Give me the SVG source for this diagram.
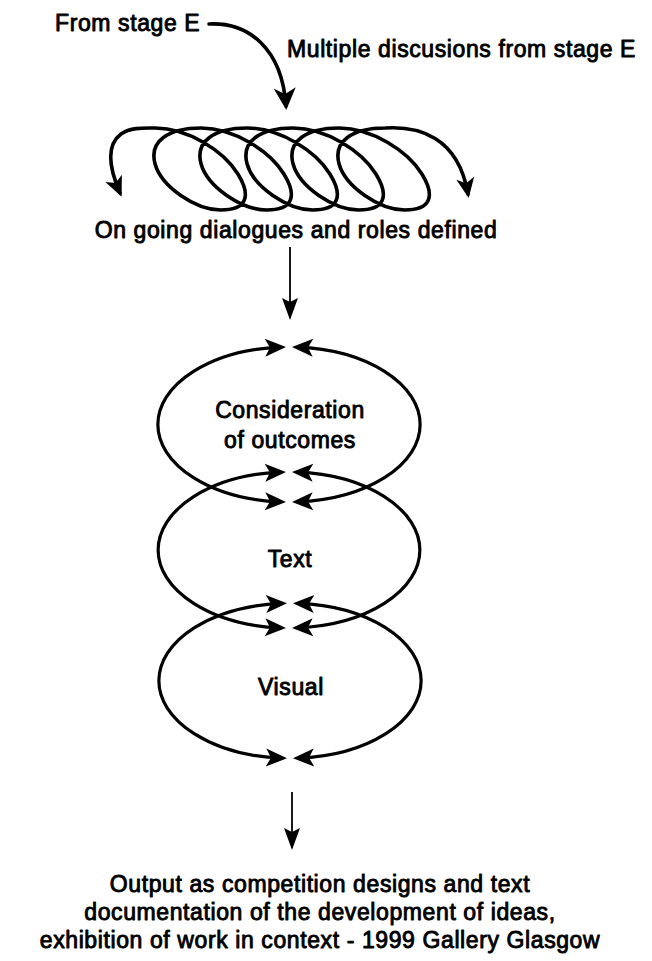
<svg xmlns="http://www.w3.org/2000/svg" width="652" height="961" viewBox="0 0 652 961">
  <style>
    .lbl { font-family: "Liberation Sans", Arial, Helvetica, sans-serif; font-size: 23px; letter-spacing: 0.6px; fill: #000; stroke: #000; stroke-width: 0.9px; stroke-linejoin: round; }
    .mid { text-anchor: middle; }
    .heavy { fill: none; stroke: #000; stroke-width: 3.6; stroke-linecap: round; stroke-linejoin: round; }
    .orbit { fill: none; stroke: #000; stroke-width: 3.2; }
    .thin { fill: none; stroke: #000; stroke-width: 1.8; }
  </style>
  <defs>
    <!-- notched heads; the tip sits a few px past the path end -->
    <marker id="headBig" viewBox="-20 -12 24 24" markerWidth="24" markerHeight="24" markerUnits="userSpaceOnUse" refX="0" refY="0" orient="auto">
      <path d="M4,0 L-18,-11 L-12,0 L-18,11 Z" fill="#000"/>
    </marker>
    <marker id="headCoil" viewBox="-20 -11 24 22" markerWidth="24" markerHeight="22" markerUnits="userSpaceOnUse" refX="0" refY="0" orient="auto-start-reverse">
      <path d="M4,0 L-16,-9 L-11,0 L-16,9 Z" fill="#000"/>
    </marker>
    <marker id="headOrbit" viewBox="-18 -10 23 20" markerWidth="23" markerHeight="20" markerUnits="userSpaceOnUse" refX="0" refY="0" orient="auto-start-reverse">
      <path d="M5,0 L-16,-9 L-11,0 L-16,9 Z" fill="#000"/>
    </marker>
    <marker id="headThin" viewBox="-22 -9 24 18" markerWidth="24" markerHeight="18" markerUnits="userSpaceOnUse" refX="0" refY="0" orient="auto">
      <path d="M2,0 L-20,-8 L-16,0 L-20,8 Z" fill="#000"/>
    </marker>
  </defs>

  <g id="node-from-stage">
    <text class="lbl" x="55" y="31">From stage E</text>
  </g>

  <g id="node-multiple">
    <text class="lbl" x="287" y="57">Multiple discusions from stage E</text>
  </g>

  <!-- coil: five advancing, slightly tilted loops with an arrow at each end -->
  <g id="node-coil">
    <path class="heavy" marker-start="url(#headCoil)" marker-end="url(#headCoil)" d="
      M 120,193 C 110,170 105,146 121,134 C 131,127 145,128 155.2,128
      C 188.3,128 224,151.4 237.9,174 C 251.9,196.7 246.2,210 220.8,210
      C 195.4,210 161.4,186.6 155.1,164 C 148.8,141.3 168.1,128 201.2,128
      C 234.3,128 270,151.4 283.9,174 C 297.9,196.7 292.2,210 266.8,210
      C 241.4,210 207.4,186.6 201.1,164 C 194.8,141.3 214.1,128 247.2,128
      C 280.3,128 316,151.4 329.9,174 C 343.9,196.7 338.2,210 312.8,210
      C 287.4,210 253.4,186.6 247.1,164 C 240.8,141.3 260.1,128 293.2,128
      C 326.3,128 362,151.4 375.9,174 C 389.9,196.7 384.2,210 358.8,210
      C 333.4,210 299.4,186.6 293.1,164 C 286.8,141.3 306.1,128 339.2,128
      C 372.3,128 408,151.4 421.9,174 C 435.9,196.7 430.2,210 404.8,210
      C 379.4,210 345.4,186.6 339.1,164 C 332.8,141.3 352.1,128 385.2,128
      C 418,126 458,136 468,194"/>
  </g>

  <g id="node-ongoing">
    <text class="lbl mid" x="296" y="238">On going dialogues and roles defined</text>
  </g>

  <g id="node-consideration">
    <path class="orbit" marker-start="url(#headOrbit)" marker-end="url(#headOrbit)" d="M 281,501.86 A 131 77.5 0 0 1 281,347.14"/>
    <path class="orbit" marker-start="url(#headOrbit)" marker-end="url(#headOrbit)" d="M 297,501.86 A 131 77.5 0 0 0 297,347.14"/>
    <text class="lbl mid" x="290" y="418">Consideration</text>
    <text class="lbl mid" x="290" y="448">of outcomes</text>
  </g>

  <g id="node-text">
    <path class="orbit" marker-start="url(#headOrbit)" marker-end="url(#headOrbit)" d="M 281,627.85 A 131 78 0 0 1 281,472.15"/>
    <path class="orbit" marker-start="url(#headOrbit)" marker-end="url(#headOrbit)" d="M 297,627.85 A 131 78 0 0 0 297,472.15"/>
    <text class="lbl mid" x="290" y="567">Text</text>
  </g>

  <g id="node-visual">
    <path class="orbit" marker-start="url(#headOrbit)" marker-end="url(#headOrbit)" d="M 282,758.16 A 131 77.5 0 0 1 282,603.44"/>
    <path class="orbit" marker-start="url(#headOrbit)" marker-end="url(#headOrbit)" d="M 298,758.16 A 131 77.5 0 0 0 298,603.44"/>
    <text class="lbl mid" x="291" y="695">Visual</text>
  </g>

  <g id="node-output">
    <text class="lbl mid" x="320" y="892">Output as competition designs and text</text>
    <text class="lbl mid" x="320" y="920">documentation of the development of ideas,</text>
    <text class="lbl mid" x="320" y="948">exhibition of work in context - 1999 Gallery Glasgow</text>
  </g>

  <g id="connectors">
    <path class="heavy" marker-end="url(#headBig)" d="M 209,24 C 248,22 282,48 286,106"/>
    <path class="thin" marker-end="url(#headThin)" d="M 290,247 L 290,318"/>
    <path class="thin" marker-end="url(#headThin)" d="M 292,792 L 292,848"/>
  </g>
</svg>
